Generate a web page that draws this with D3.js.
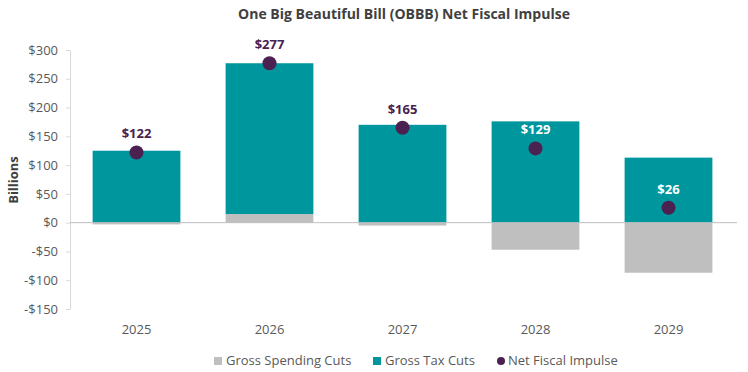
<!DOCTYPE html>
<html><head><meta charset="utf-8">
<script src="https://cdn.jsdelivr.net/npm/d3@7"></script>
<style>body{margin:0;background:#fff;} text{font-family:"Open Sans",sans-serif;}</style>
</head><body>
<svg id="c" width="748" height="372"></svg>
<script>
const years = ["2025","2026","2027","2028","2029"];
const spendingCuts = [-3, 15, -5, -47, -87];
const taxCuts = [125, 262, 170, 176, 113];
const netImpulse = [122, 277, 165, 129, 26];
const yTicks = [-150,-100,-50,0,50,100,150,200,250,300];
const labelColors = ["#4a2150","#4a2150","#4a2150","#ffffff","#ffffff"];

const svg = d3.select("#c");
const x = d3.scaleBand().domain(years).range([70,735]).paddingInner(0.34).paddingOuter(0.17);
const y = d3.scaleLinear().domain([-150,300]).range([309,50]);

svg.append("text").attr("x",404).attr("y",19).attr("text-anchor","middle")
  .attr("font-size",14).attr("font-weight","bold").attr("fill","#404040")
  .text("One Big Beautiful Bill (OBBB) Net Fiscal Impulse");

const yAxis = svg.append("g").attr("transform","translate(70,0)")
  .call(d3.axisLeft(y).tickValues(yTicks).tickSize(4).tickPadding(8)
    .tickFormat(d => (d<0?"-$":"$")+Math.abs(d)));
yAxis.select(".domain").attr("stroke","#d9d9d9");
yAxis.selectAll(".tick line").attr("stroke","#d9d9d9");
yAxis.selectAll(".tick text").attr("font-size",13).attr("fill","#595959").attr("font-family","Open Sans");

svg.append("text").attr("transform","translate(18,180) rotate(-90)").attr("text-anchor","middle")
  .attr("font-size",13).attr("font-weight","bold").attr("fill","#404040").text("Billions");

svg.selectAll(".sp").data(years).join("rect")
  .attr("x",d=>x(d)).attr("width",x.bandwidth())
  .attr("y",(d,i)=>y(Math.max(0,spendingCuts[i])))
  .attr("height",(d,i)=>Math.abs(y(spendingCuts[i])-y(0)))
  .attr("fill","#bfbfbf");
svg.selectAll(".tx").data(years).join("rect")
  .attr("x",d=>x(d)).attr("width",x.bandwidth())
  .attr("y",(d,i)=>y(taxCuts[i]+Math.max(0,spendingCuts[i])))
  .attr("height",(d,i)=>y(Math.max(0,spendingCuts[i]))-y(taxCuts[i]+Math.max(0,spendingCuts[i])))
  .attr("fill","#00969e");

svg.append("line").attr("x1",70).attr("x2",737).attr("y1",y(0)).attr("y2",y(0))
  .attr("stroke","#bfbfbf").attr("stroke-width",1);

svg.selectAll(".dot").data(years).join("circle")
  .attr("cx",d=>x(d)+x.bandwidth()/2).attr("cy",(d,i)=>y(netImpulse[i]))
  .attr("r",7).attr("fill","#4a2150");
svg.selectAll(".lbl").data(years).join("text")
  .attr("x",d=>x(d)+x.bandwidth()/2).attr("y",(d,i)=>y(netImpulse[i])-14)
  .attr("text-anchor","middle").attr("font-size",13).attr("font-weight","bold")
  .attr("fill",(d,i)=>labelColors[i]).text((d,i)=>"$"+netImpulse[i]);

svg.selectAll(".xl").data(years).join("text")
  .attr("x",d=>x(d)+x.bandwidth()/2).attr("y",334).attr("text-anchor","middle")
  .attr("font-size",13).attr("fill","#595959").text(d=>d);

const lg = svg.append("g");
lg.append("rect").attr("x",214).attr("y",357).attr("width",8).attr("height",8).attr("fill","#bfbfbf");
lg.append("text").attr("x",226).attr("y",365).attr("font-size",13).attr("fill","#595959").text("Gross Spending Cuts");
lg.append("rect").attr("x",373).attr("y",357).attr("width",8).attr("height",8).attr("fill","#00969e");
lg.append("text").attr("x",385).attr("y",365).attr("font-size",13).attr("fill","#595959").text("Gross Tax Cuts");
lg.append("circle").attr("cx",501).attr("cy",361).attr("r",4).attr("fill","#4a2150");
lg.append("text").attr("x",508).attr("y",365).attr("font-size",13).attr("fill","#595959").text("Net Fiscal Impulse");
</script>
</body></html>
